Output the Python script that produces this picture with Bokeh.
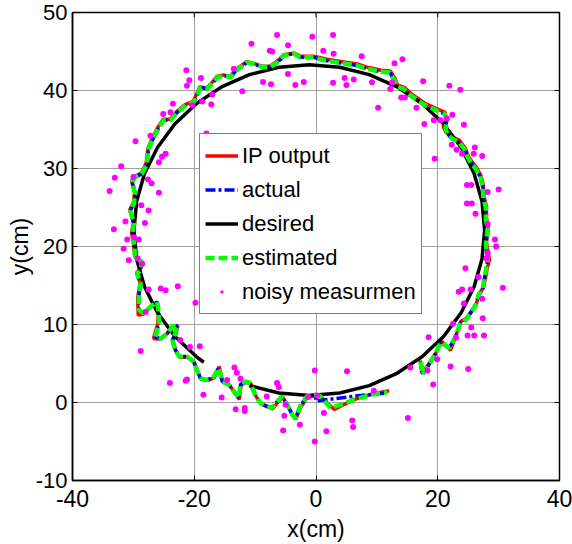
from bokeh.plotting import figure
from bokeh.models import Legend, LegendItem, FixedTicker, Range1d
from bokeh.embed import file_html
from bokeh.resources import INLINE

x_ticks = [-40, -20, 0, 20, 40]
y_ticks = [-10, 0, 10, 20, 30, 40, 50]

desired_x = [-10.95, -6.1, -1.1, 3.9, 8.75, 13.3, 17.42, 20.96, 23.84, 25.97, 27.27, 27.7,
             27.27, 25.97, 23.84, 20.96, 17.42, 13.3, 8.75, 3.9, -1.1, -6.1, -10.95, -15.5,
             -19.62, -23.16, -26.04, -28.17, -29.47, -29.9, -29.47, -28.17, -26.04, -23.16,
             -19.62, -18.44]
desired_y = [2.17, 1.22, 0.9, 1.22, 2.17, 3.74, 5.86, 8.47, 11.5, 14.85, 18.41, 22.1,
             25.79, 29.35, 32.7, 35.73, 38.34, 40.46, 42.03, 42.98, 43.3, 42.98, 42.03, 40.46,
             38.34, 35.73, 32.7, 29.35, 25.79, 22.1, 18.41, 14.85, 11.5, 8.47, 5.86, 5.16]

est_x = [17.2, 17.5, 18.3, 19.6, 20.5, 21.9, 22.9, 23.7, 24.6, 25.5,
         26.3, 26.7, 27.4, 27.6, 27.9, 28.2, 27.9, 28.2, 27.9, 27.9,
         27.5, 27.4, 27.0, 26.2, 25.2, 24.8, 24.5, 23.5, 22.4, 21.5,
         21.3, 21.5, 21.1, 19.9, 18.8, 17.7, 16.6, 15.5, 14.4, 13.3,
         12.9, 12.1, 10.6, 8.4, 6.75, 5.1, 3.5, 1.8, 0.7, -0.4,
         -1.5, -2.6, -3.6, -5.3, -5.8, -6.7, -7.5, -8.8, -10.2, -11.3,
         -13.2, -14.0, -15.1, -16.2, -17.0, -17.9, -19.0, -19.3, -20.1, -21.4,
         -22.8, -23.9, -25.0, -25.8, -26.9, -27.5, -27.8, -28.6, -29.7, -30.2,
         -29.7, -29.9, -30.5, -30.2, -29.9, -30.2, -29.9, -29.7, -28.6, -28.8,
         -29.4, -28.8, -29.1, -29.1, -28.3, -27.2, -26.1, -25.8, -25.8, -26.4,
         -25.5, -24.4, -23.6, -22.8, -23.1, -23.6, -23.1, -22.5, -21.2, -20.1,
         -19.8, -19.0, -17.9, -16.8, -16.0, -15.4, -14.3, -13.5, -12.7, -12.4,
         -11.6, -10.8, -9.9, -9.1, -8.0, -7.2, -6.4, -5.6, -4.7, -3.9,
         -3.4, -2.6, -1.5, -0.1, 0.7, 2.4, 4.0, 6.2, 9.0, 11.7]
est_y = [5.2, 3.6, 4.5, 6.2, 7.7, 7.0, 8.4, 10.2, 10.6, 11.6,
         12.6, 13.8, 14.5, 15.6, 16.9, 18.3, 20.3, 22.3, 23.5, 24.9,
         26.2, 27.6, 28.9, 30.0, 31.0, 31.6, 32.3, 33.4, 33.8, 34.5,
         35.3, 36.2, 37.0, 37.4, 37.8, 38.2, 38.8, 39.4, 40.2, 40.5,
         41.3, 42.3, 42.4, 42.8, 43.2, 43.4, 43.6, 43.8, 44.0, 44.25,
         44.25, 44.25, 44.7, 44.5, 44.0, 43.4, 43.0, 43.0, 43.4, 43.6,
         42.5, 41.7, 41.9, 41.7, 40.9, 40.2, 40.4, 39.8, 38.5, 38.1,
         37.2, 36.2, 36.2, 35.3, 33.6, 32.5, 30.6, 29.3, 28.9, 28.3,
         26.8, 25.5, 24.6, 23.8, 22.9, 21.7, 20.4, 18.7, 18.0, 17.0,
         16.5, 15.3, 13.6, 11.9, 11.4, 12.3, 12.9, 11.4, 10.2, 8.4,
         8.2, 8.9, 9.7, 9.9, 8.9, 8.0, 6.7, 5.9, 5.9, 5.25,
         4.6, 3.1, 2.9, 3.3, 4.4, 2.7, 2.3, 1.4, 0.6, 2.3,
         2.7, 2.5, 0.8, -0.1, -0.5, -0.7, 0.1, 0.8, -0.3, -1.6,
         -2.0, -0.5, 0.8, 1.0, 0.8, -0.7, -0.3, 0.35, 1.0, 1.3]

ip_x = [17.1, 17.4, 18.3, 19.7, 20.6, 22.1, 23.0, 23.8, 24.7, 25.6,
        26.4, 26.8, 27.5, 27.8, 28.1, 28.5, 28.0, 28.3, 28.0, 28.0,
        27.6, 27.5, 27.1, 26.3, 25.3, 24.9, 24.6, 23.6, 22.5, 21.4,
        20.9, 21.4, 21.2, 20.0, 18.9, 17.8, 16.7, 15.6, 14.5, 13.4,
        13.0, 12.2, 10.7, 8.4, 6.75, 5.1, 3.5, 1.8, 0.7, -0.4,
        -1.5, -2.6, -3.6, -5.3, -5.9, -6.8, -7.6, -8.9, -10.3, -11.4,
        -13.3, -14.1, -15.2, -16.3, -17.1, -18.0, -19.1, -19.4, -20.2, -21.5,
        -22.9, -24.0, -25.1, -25.9, -27.0, -27.6, -27.9, -28.7, -29.8, -30.3,
        -29.8, -30.0, -30.6, -30.3, -30.0, -30.3, -30.0, -29.8, -28.7, -28.9,
        -29.5, -28.9, -29.3, -29.2, -28.4, -27.3, -26.2, -25.9, -26.0, -26.7,
        -25.6, -24.5, -23.7, -22.7, -23.0, -23.5, -23.0, -22.4, -21.1, -20.0,
        -19.7, -18.9, -17.8, -16.7, -15.9, -15.3, -14.2, -13.4, -12.6, -12.3,
        -11.5, -10.7, -9.8, -9.0, -7.9, -7.1, -6.3, -5.5, -4.6, -3.8,
        -3.3, -2.5, -1.4, 0.0, 0.8, 3.0, 4.2, 6.4, 9.2, 12.0]
ip_y = [5.4, 3.8, 4.7, 6.4, 7.9, 6.7, 8.6, 10.4, 10.8, 11.8,
        12.8, 14.0, 14.7, 15.8, 17.1, 18.3, 20.5, 22.5, 23.7, 25.1,
        26.4, 27.8, 29.1, 30.2, 31.2, 31.8, 32.5, 33.6, 34.0, 34.6,
        35.4, 36.4, 37.2, 37.6, 38.0, 38.4, 39.0, 39.6, 40.4, 40.7,
        41.5, 42.5, 42.6, 43.0, 43.4, 43.6, 43.8, 44.0, 44.2, 44.4,
        44.4, 44.4, 44.8, 44.6, 44.1, 43.5, 43.1, 43.1, 43.5, 43.7,
        42.6, 41.8, 42.0, 41.8, 41.0, 40.3, 40.5, 39.9, 38.6, 38.2,
        37.3, 36.3, 36.3, 35.4, 33.7, 32.6, 30.7, 29.4, 29.0, 28.4,
        26.9, 25.6, 24.7, 23.9, 23.0, 21.8, 20.5, 18.8, 18.1, 17.1,
        16.6, 15.4, 13.4, 11.2, 11.3, 12.2, 12.8, 11.3, 10.1, 8.2,
        8.1, 8.8, 9.6, 9.8, 8.8, 7.9, 6.6, 5.8, 5.8, 5.15,
        4.5, 3.0, 2.8, 3.2, 4.6, 2.6, 2.2, 1.3, 0.4, 2.2,
        2.6, 2.4, 0.7, -0.2, -0.6, -0.8, 0.0, 0.7, -0.4, -1.7,
        -2.1, -0.6, 0.7, 0.9, 0.7, -0.9, -0.4, 0.4, 1.1, 1.5]

actual_x = [17.3, 17.5, 18.3, 19.6, 20.5, 21.9, 22.9, 23.7, 24.6, 25.5,
            26.3, 26.7, 27.4, 27.6, 27.9, 28.2, 27.9, 28.2, 27.9, 27.9,
            27.5, 27.4, 27.0, 26.2, 25.2, 24.8, 24.5, 23.5, 22.4, 21.5,
            21.3, 21.5, 21.1, 19.9, 18.8, 17.7, 16.6, 15.5, 14.4, 13.3,
            12.9, 12.1, 10.6, 8.4, 6.75, 5.1, 3.5, 1.8, 0.7, -0.4,
            -1.5, -2.6, -3.6, -5.3, -5.8, -6.7, -7.5, -8.8, -10.2, -11.3,
            -13.2, -14.0, -15.1, -16.2, -17.0, -17.9, -19.0, -19.3, -20.1, -21.4,
            -22.8, -23.9, -25.0, -25.8, -26.9, -27.5, -27.8, -28.6, -29.7, -30.2,
            -29.7, -29.9, -30.5, -30.2, -29.9, -30.2, -29.9, -29.7, -28.6, -28.8,
            -29.4, -28.8, -29.1, -29.1, -28.3, -27.2, -26.1, -25.8, -25.8, -26.4,
            -25.5, -24.4, -23.6, -22.8, -23.1, -23.6, -23.1, -22.5, -21.2, -20.1,
            -19.8, -19.0, -17.9, -16.8, -16.0, -15.4, -14.3, -13.5, -12.7, -12.4,
            -11.6, -10.8, -9.9, -9.1, -8.0, -7.2, -6.4, -5.6, -4.7, -3.9,
            -3.4, -2.6, -1.5, -0.1, 0.0, 7.3, 9.0, 11.5]
actual_y = [4.9, 3.6, 4.5, 6.2, 7.7, 7.0, 8.4, 10.2, 10.6, 11.6,
            12.6, 13.8, 14.5, 15.6, 16.9, 18.3, 20.3, 22.3, 23.5, 24.9,
            26.2, 27.6, 28.9, 30.0, 31.0, 31.6, 32.3, 33.4, 33.8, 34.5,
            35.3, 36.2, 37.0, 37.4, 37.8, 38.2, 38.8, 39.4, 40.2, 40.5,
            41.3, 42.3, 42.4, 42.8, 43.2, 43.4, 43.6, 43.8, 44.0, 44.25,
            44.25, 44.25, 44.7, 44.5, 44.0, 43.4, 43.0, 43.0, 43.4, 43.6,
            42.5, 41.7, 41.9, 41.7, 40.9, 40.2, 40.4, 39.8, 38.5, 38.1,
            37.2, 36.2, 36.2, 35.3, 33.6, 32.5, 30.6, 29.3, 28.9, 28.3,
            26.8, 25.5, 24.6, 23.8, 22.9, 21.7, 20.4, 18.7, 18.0, 17.0,
            16.5, 15.3, 13.6, 11.9, 11.4, 12.3, 12.9, 11.4, 10.2, 8.4,
            8.2, 8.9, 9.7, 9.9, 8.9, 8.0, 6.7, 5.9, 5.9, 5.25,
            4.6, 3.1, 2.9, 3.3, 4.4, 2.7, 2.3, 1.4, 0.6, 2.3,
            2.7, 2.5, 0.8, -0.1, -0.5, -0.7, 0.1, 0.8, -0.3, -1.6,
            -2.0, -0.5, 0.8, 1.0, 0.2, 0.9, 1.0, 1.2]

noisy_x = [-6.4, -0.6, 2.8, -10.6, -4.6, -7.6, -7.2, 1.2, 2.9, 7.5,
           12.9, 14.2, -21.3, -20.8, -21.2, -18.9, -12.1, -17.05, -17.2, -18.7,
           -23.5, -25.1, -13.5, -8.7, -7.4, -4.6, -3.4, -2.0, 2.8, 4.7,
           5.0, 6.2, 9.2, 10.2, 12.2, 12.5, 14.0, 14.6, 16.5, 17.6,
           17.8, 19.35, 20.45, 21.5, 22.4, 24.3, 21.9, 23.7, -18.0, -20.3,
           19.5, 22.3, 23.1, 24.0, 25.9, 26.1, 27.3, 24.8, 25.5, 28.2,
           30.0, 24.8, 25.6, 26.2, 28.2, 29.4, 29.6, 28.2, 28.0, 26.7,
           30.7, 24.55, 23.45, 24.0, 25.4, 27.3, 24.3, 22.5, 25.5, 24.9,
           26.0, 27.6, 27.4, 23.0, 18.5, 19.9, 22.1, 25.0, 15.5, 19.25,
           18.3, 15.1, 5.1, -0.2, -6.4, -6.1, -8.1, -5.0, -5.2, -5.4,
           -2.65, -0.2, 1.3, 1.7, 5.95, 6.1, 9.5, -1.3, 0.2, -13.4,
           -14.6, -13.2, -11.7, -11.7, -13.0, -12.4, -15.5, -18.5, -19.1, -20.7,
           -21.4, -21.2, -24.0, -22.3, -29.65, -32.0, -33.05, -33.9, -33.2, -31.3,
           -28.1, -27.5, -28.7, -25.8, -27.0, -27.6, -25.8, -25.3, -24.7, -27.2,
           -23.9, -31.6, -30.75, -25.5, -24.7, -22.7, -19.8, -28.8, -29.9, -29.1,
           -28.55, -28.0, -27.5, -30.0, -31.0, -29.3]
noisy_y = [47.1, 46.9, 47.1, 46.0, 45.8, 45.1, 45.0, 45.1, 44.7, 44.4,
           43.5, 44.0, 42.6, 41.3, 40.6, 41.6, 39.9, 39.5, 38.2, 38.6,
           38.3, 37.0, 42.8, 41.1, 40.8, 42.1, 40.7, 41.1, 41.0, 41.6,
           40.7, 41.4, 41.05, 37.8, 40.2, 41.05, 39.1, 39.1, 37.8, 41.2,
           35.7, 36.2, 36.2, 36.4, 36.9, 35.6, 40.6, 40.1, 34.5, 38.1,
           31.25, 33.05, 32.4, 31.9, 31.9, 32.7, 31.6, 27.9, 27.9, 27.0,
           27.3, 25.5, 25.5, 24.2, 22.9, 20.9, 20.0, 19.2, 18.5, 16.1,
           14.7, 17.2, 14.2, 14.5, 14.5, 13.3, 12.7, 10.1, 9.6, 8.6,
           8.6, 8.6, 10.8, 8.3, 8.35, 5.55, 4.6, 4.3, 4.5, 2.3,
           4.1, -2.0, 4.0, 4.1, 2.5, 2.0, 0.77, -0.3, -1.7, -3.6,
           -2.85, -5.0, -1.35, -3.7, -2.3, -3.15, 1.5, 0.7, 0.9, 4.5,
           2.9, -0.85, -0.7, -1.1, 3.8, 3.05, 0.65, 1.0, 7.2, 7.1,
           2.8, 2.95, 2.5, 8.0, 33.5, 30.3, 28.8, 27.1, 22.2, 23.2,
           23.0, 24.6, 25.3, 26.9, 28.1, 28.6, 30.8, 31.5, 31.9, 34.2,
           37.2, 19.7, 18.25, 14.6, 14.4, 14.9, 12.8, 6.6, 21.2, 20.9,
           17.8, 11.6, 14.5, 28.9, 20.9, 18.5]

FONT = "Liberation Sans"
X_MIN, X_MAX, Y_MIN, Y_MAX = -40, 40, -10, 50
W, H = 572, 544
BL, BR, BT, BB = 72, 13, 12, 63

p = figure(width=W, height=H, x_range=Range1d(X_MIN, X_MAX), y_range=Range1d(Y_MIN, Y_MAX),
           output_backend="svg", toolbar_location=None,
           min_border_left=BL, min_border_right=BR, min_border_top=BT, min_border_bottom=BB)
p.background_fill_color = "white"
p.border_fill_color = "white"
p.outline_line_color = "black"
p.outline_line_width = 1.5

for ax in p.xaxis + p.yaxis:
    ax.major_tick_in = 5
    ax.major_tick_out = 0
    ax.minor_tick_in = 0
    ax.minor_tick_out = 0
    ax.axis_line_color = "black"
    ax.axis_line_width = 1.5
    ax.major_tick_line_color = "black"
    ax.major_tick_line_width = 1
    ax.major_label_text_font = FONT
    ax.major_label_text_color = "black"
    ax.axis_label_text_font = FONT
    ax.axis_label_text_font_style = "normal"
    ax.axis_label_text_color = "black"

p.xaxis.ticker = FixedTicker(ticks=x_ticks)
p.yaxis.ticker = FixedTicker(ticks=y_ticks)
p.xaxis.major_label_overrides = {t: str(t) for t in x_ticks}
p.yaxis.major_label_overrides = {t: str(t) for t in y_ticks}
p.xaxis.major_label_text_font_size = "23px"
p.yaxis.major_label_text_font_size = "22px"
p.xaxis.axis_label = "x(cm)"
p.yaxis.axis_label = "y(cm)"
p.xaxis.axis_label_text_font_size = "23px"
p.yaxis.axis_label_text_font_size = "23px"
p.xaxis.major_label_text_line_height = 1.0
p.xaxis.axis_label_text_line_height = 1.0
p.xaxis.major_label_standoff = 9
p.yaxis.major_label_standoff = 5
p.xaxis.axis_label_standoff = 6
p.yaxis.axis_label_standoff = 0

p.xgrid.ticker = FixedTicker(ticks=x_ticks)
p.ygrid.ticker = FixedTicker(ticks=y_ticks)
p.grid.grid_line_color = "#a0a0a0"
p.grid.grid_line_width = 1

# inward ticks on the top and right edges of the box (5 px long)
tick_dy = 5 * (Y_MAX - Y_MIN) / (H - BT - BB)
tick_dx = 5 * (X_MAX - X_MIN) / (W - BL - BR)
p.segment(x0=x_ticks, y0=[Y_MAX] * len(x_ticks), x1=x_ticks, y1=[Y_MAX - tick_dy] * len(x_ticks),
          line_color="black", line_width=1)
p.segment(x0=[X_MAX] * len(y_ticks), y0=y_ticks, x1=[X_MAX - tick_dx] * len(y_ticks), y1=y_ticks,
          line_color="black", line_width=1)

r_ip = p.line(ip_x, ip_y, line_color="#ff0000", line_width=3.5)
r_act = p.line(actual_x, actual_y, line_color="#0000ff", line_width=3.5, line_dash="10 3 3 3")
r_des = p.line(desired_x, desired_y, line_color="black", line_width=3.5)
r_est = p.line(est_x, est_y, line_color="#00ff00", line_width=4.5, line_dash="9 4")
r_noise = p.scatter(noisy_x, noisy_y, marker="dot", size=24,
                    fill_color="#ff00ff", line_color="#ff00ff", line_width=1)

legend = Legend(items=[
    LegendItem(label="IP output", renderers=[r_ip]),
    LegendItem(label="actual", renderers=[r_act]),
    LegendItem(label="desired", renderers=[r_des]),
    LegendItem(label="estimated", renderers=[r_est]),
    LegendItem(label="noisy measurmen", renderers=[r_noise]),
], location=(127, 166))
legend.label_text_font = FONT
legend.label_text_font_size = "22px"
legend.label_text_color = "black"
legend.glyph_width = 33
legend.glyph_height = 33
legend.label_height = 33
legend.label_standoff = 4
legend.spacing = 1
legend.padding = 5
legend.margin = 0
legend.border_line_color = "black"
legend.border_line_width = 1.5
legend.background_fill_color = "white"
legend.background_fill_alpha = 1.0
p.add_layout(legend)

open("out.html", "w").write(file_html(p, INLINE))
